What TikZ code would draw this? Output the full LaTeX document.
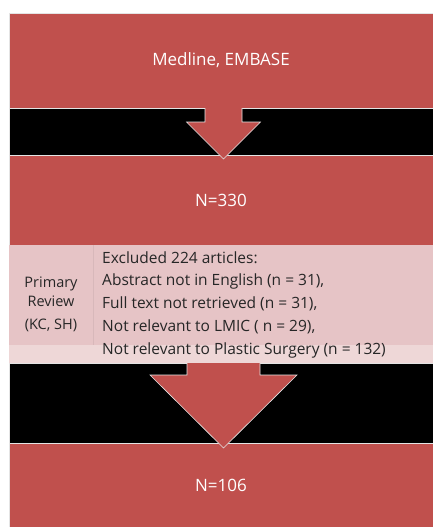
\documentclass[tikz,border=0pt]{standalone}
\usepackage{fontspec}
\setmainfont{Open Sans}
\usetikzlibrary{positioning,calc}
\definecolor{stagered}{HTML}{C0504D}
\definecolor{reviewpink}{HTML}{E6C4C6}
\definecolor{strippink}{HTML}{EED7D7}
\definecolor{edgegray}{HTML}{E4E4E4}
\definecolor{textgray}{HTML}{262626}
\tikzset{%
  every stage/.style={
    rectangle,
    draw=edgegray,
    line width=0.5pt,
    fill=stagered,
    text=white,
    minimum width=424pt,
    inner sep=0pt,
    outer sep=0pt,
    font=\fontsize{17}{21}\selectfont
  },
  stage band/.style={
    every stage,
    fill=black
  },
  review cell/.style={
    rectangle,
    fill=reviewpink,
    draw=none,
    inner sep=0pt,
    outer sep=0pt,
    text=textgray,
    font=\fontsize{14.5}{19}\selectfont
  },
  reason line/.style={
    anchor=west,
    inner sep=0pt,
    text=textgray,
    font=\fontsize{15.5}{18}\selectfont
  },
  block arrow/.style={
    fill=stagered,
    draw=edgegray,
    line width=0.6pt,
    line join=miter
  },
}

\begin{document}
\begin{tikzpicture}[x=1pt, y=-1pt, node distance=0pt]
\useasboundingbox[fill=white] (0,0) rectangle (433,527);
\node[every stage, minimum height=95pt, anchor=north west] (search) at (9,13) {Medline, EMBASE};
\node[stage band, minimum height=47pt, below=of search] (band1) {};
\node[every stage, minimum height=90pt, below=of band1] (screened) {N=330};
\node[review cell, minimum width=424pt, minimum height=100pt, below=of screened] (excluded) {};
\node[review cell, fill=strippink, minimum width=424pt, minimum height=18pt, below=of excluded] (strip) {};
\node[stage band, minimum height=80pt, below=of strip] (band2) {};
\node[every stage, minimum height=84pt, below=of band2] (included) {N=106};
\node[review cell, minimum width=84pt, minimum height=100pt, anchor=north west] (reviewcell) at (excluded.north west) {};
\draw[reviewpink!94!black, line width=0.4pt] (reviewcell.north east) -- (reviewcell.south east);
\node[review cell, fill=none, align=center, yshift=-9pt] (reviewer) at (reviewcell.center) {Primary\\Review\\[4pt](KC, SH)};
\foreach \reason [count=\i] in {{Excluded 224 articles:}, {Abstract not in English (n = 31),}, {Full text not retrieved (n = 31),}, {Not relevant to LMIC ( n = 29),}, {Not relevant to Plastic Surgery (n = 132)}}
    \node[reason line] (reason\i) at ($(excluded.north west)+(93,13+23*\i-23)$) {\reason};
\foreach \band/\neckdy/\tipdy/\shaftw/\headw in {band1/14/51/18.5/37, band2/12/85/36.5/73.5}
    \draw[block arrow] ($(\band.north)+(2.5-\shaftw,0)$) -- ++(0,\neckdy) -- ($(\band.north)+(2.5-\headw,\neckdy)$) -- ($(\band.north)+(2.5,\tipdy)$) -- ($(\band.north)+(2.5+\headw,\neckdy)$) -- ($(\band.north)+(2.5+\shaftw,\neckdy)$) -- ++(0,-\neckdy);
\end{tikzpicture}
\end{document}
